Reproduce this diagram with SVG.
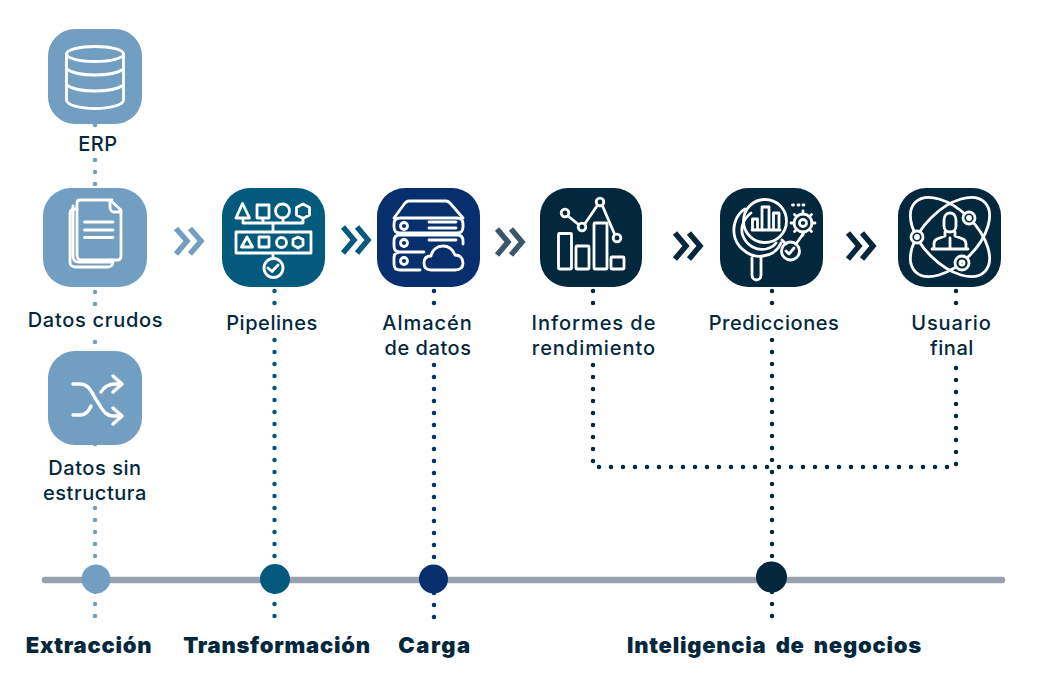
<svg xmlns="http://www.w3.org/2000/svg" width="1041" height="683" viewBox="0 0 1041 683">
<style>
text{font-family:"Inter","Liberation Sans",sans-serif;fill:#03283e;text-anchor:middle}
.l{font-size:20px;font-weight:500;letter-spacing:.55px}
.w{letter-spacing:.95px}
.h{font-size:22px;font-weight:900;letter-spacing:.75px;word-spacing:1.5px}
.i{fill:none;stroke:#fff;stroke-width:2.8;stroke-linecap:round;stroke-linejoin:round}
.d{fill:none;stroke-width:4.5;stroke-dasharray:0 12;stroke-linecap:round}
.c{fill:none;stroke-width:5.5}
</style>
<rect width="1041" height="683" fill="#fff"/>
<g id="connectors">
<path class="d" stroke="#729fc1" d="M95 125V127.500M95 160V196.500M95 292V304.500M95 342V352.500M95 444V452.500M95 508V620.500"/>
<path class="d" stroke="#035a7c" d="M274.500 291V303.500M274.500 340V620.500"/>
<path class="d" stroke="#072f6e" d="M434 291V303.500M434 365V620.500"/>
<path class="d" stroke="#03283e" d="M593 291V303.500M593 365V467H956V364.500M956 303V290.500"/>
<path class="d" stroke="#03283e" d="M772 291V303.500M772 340V620.500"/>
<path d="M45 580H1002" stroke="#98a1ac" stroke-width="6.500" stroke-linecap="round" fill="none"/>
<path class="c" stroke="#729fc1" d="M176 228.500L187 241L176 254M190 228.500L201 241L190 254"/>
<path class="c" stroke="#035a7c" d="M343 227L354 240L343 253M357 227L368 240L357 253"/>
<path class="c" stroke="#3b5569" d="M497 229L508 242L497 255M511 229L522 242L511 255"/>
<path class="c" stroke="#03283e" d="M675 233L686 246L675 259M689 233L700 246L689 259"/>
<path class="c" stroke="#03283e" d="M848 233L859 246L848 259M862 233L873 246L862 259"/>
</g>
<g id="node-erp">
<rect x="48" y="29" width="94" height="95" rx="27" fill="#729fc1"/>
<g class="i"><ellipse cx="95" cy="54" rx="28.500" ry="7.500"/><path d="M66.500 54V100C66.500 105 80 108.500 95 108.500S123.500 105 123.500 100V54M66.500 69C72 73 82 75 95 75S118 73 123.500 69M66.500 85C72 89 82 91 95 91S118 89 123.500 85"/></g>
<text class="l" x="98" y="151">ERP</text>
</g>
<g id="node-datos-crudos">
<rect x="43" y="188" width="104" height="99" rx="28" fill="#729fc1"/>
<g class="i"><path d="M77 209C72 209 70 210 70 213V262C70 265 72 267 75 267H108C111 267 113 265 113 262H79C75 262 73 260 73 256V206"/><path d="M112 200H80C78 200 77 201 77 203V255C77 258 79 260 81 260H118C120 260 121 258 121 256V210L110 200V207C110 210 112 212 114 212H121"/><path d="M84.500 222H113M84.500 230H113M84.500 237.500H113"/></g>
<text class="l" x="95.500" y="327" style="letter-spacing:.7px">Datos crudos</text>
</g>
<g id="node-datos-sin">
<rect x="48" y="351" width="94" height="94" rx="27" fill="#729fc1"/>
<path class="i" style="stroke-width:3.400" d="M73 384H80C90 384 92 394 97 401S104 416 114 416H121M73 415H80C85 415 89 411 91 406M101 392C104 387 109 384 115 384H121M113 376L122 384L113 392M113 408L122 416L113 424"/>
<text class="l" x="95" y="475">Datos sin</text><text class="l" x="95" y="500">estructura</text>
</g>
<g id="node-pipelines">
<rect x="222" y="188" width="103" height="99" rx="28" fill="#035a7c"/>
<g class="i"><path d="M242.500 203.500L236 218H249.500ZM257 205H269V218H257ZM303 204L309.500 207.500V215L303 218.500L296.500 215V207.500ZM243 218V223H303V218M263 218V223M283 218V223M273 223V232M236 232H311V253H236ZM247 237L241.500 247H252.500ZM259 237H269V247H259ZM298 237L303 239.500V245L298 248L293 245V239.500ZM273 253V258.500M268 268L272 271.500L278 265"/><circle cx="282.500" cy="211" r="7"/><circle cx="281.500" cy="242.500" r="5"/><circle cx="273.500" cy="268" r="9.500"/></g>
<text class="l" x="272" y="330">Pipelines</text>
</g>
<g id="node-almacen">
<rect x="377" y="188" width="103" height="99" rx="28" fill="#072f6e"/>
<g class="i"><path d="M394 218L405 203C406 202 407 201 409 201H446C448 201 449 202 450 203L463 218M400 218H457C461 218 463 220 463 224V227C463 231 461 233 457 233H400C396 233 394 231 394 227V224C394 220 396 218 400 218ZM400 235H457C461 235 463 237 463 241V244M400 235C396 235 394 237 394 241V246C394 250 396 252 400 252H424M400 252C396 252 394 254 394 258V264C394 268 396 270 400 270H420M429 222H456M429 228H456M429 240H456"/><circle cx="404" cy="226" r="3.500"/><circle cx="404" cy="243" r="3.500"/><circle cx="404" cy="261" r="3.500"/><path d="M431 270C426 270 424 267 424 263S426 256 431 256C432 250 437 246 443 246S453 250 455 255C460 255 463 258 463 263S460 270 455 270Z"/></g>
<text class="l w" x="427.500" y="330">Almacén</text><text class="l" x="428" y="355">de datos</text>
</g>
<g id="node-informes">
<rect x="540" y="188" width="102" height="99" rx="28" fill="#03283e"/>
<g class="i"><rect x="558.500" y="233.500" width="13" height="35.500" rx="1"/><rect x="576" y="246" width="13" height="23" rx="1"/><rect x="594" y="223" width="13" height="46" rx="1"/><rect x="611" y="257" width="13" height="12" rx="1"/><path d="M568 216L578.500 224.500M585 223.500L597 206M602.500 206L614.500 234"/><circle cx="565" cy="213" r="3.800"/><circle cx="582" cy="227" r="3.800"/><circle cx="600" cy="202" r="3.800"/><circle cx="617" cy="238" r="3.800"/></g>
<text class="l w" x="594" y="330">Informes de</text><text class="l w" x="594" y="355">rendimiento</text>
</g>
<g id="node-predicciones">
<rect x="720" y="188" width="103" height="99" rx="28" fill="#03283e"/>
<g class="i"><circle cx="765" cy="221" r="21.500"/><path d="M745 209C735 215 732 228 735 238C739 250 752 258 763 256C772 255 778 250 781 243M751 213C743 219 740 229 743 236C747 246 757 251 766 249C770 248 774 246 776 243M752 258V275C752 278 754 280 756.500 280S761 278 761 275V258M752.500 230V219H757.500V230M762 230V207H769V230M773.500 230V213H779V230M752 230H780M782 240L786 244M796 244L803 234M786 251L789 254L794 248"/><circle cx="790.500" cy="251" r="9"/><circle cx="803" cy="223" r="3.500"/><circle cx="803" cy="223" r="9"/><path d="M803 211V214M803 232V235M791 223H794M812 223H815M794.500 214.500L796.500 216.500M809.500 229.500L811.500 231.500M811.500 214.500L809.500 216.500M796.500 229.500L794.500 231.500"/><path d="M792.500 205H793.500M798 205H799M803 205H804"/></g>
<text class="l" x="774" y="330">Predicciones</text>
</g>
<g id="node-usuario">
<rect x="898" y="188" width="103" height="99" rx="28" fill="#03283e"/>
<g class="i"><ellipse cx="950" cy="237" rx="49" ry="27" transform="rotate(45 950 237)"/><ellipse cx="950" cy="237" rx="49" ry="27" transform="rotate(-45 950 237)"/><circle cx="969" cy="218" r="6" fill="#03283e"/><circle cx="969" cy="218" r="1.500"/><circle cx="917" cy="237" r="6" fill="#03283e"/><circle cx="917" cy="237" r="1.500"/><circle cx="962" cy="263" r="7" fill="#03283e"/><circle cx="962" cy="263" r="2"/><path d="M944 220C944 215 947 213 950 213S956 215 956 220V226C956 230 953 232 950 232S944 230 944 226ZM945 232V236L937 239C935 240 934 241 934 244V248M955 232V236L963 239C965 240 966 241 966 244V248M932 249H968M950 238V248"/></g>
<text class="l w" x="951.500" y="330">Usuario</text><text class="l" x="952" y="355">final</text>
</g>
<g id="node-extraccion"><circle cx="96" cy="579" r="14.500" fill="#729fc1"/><text class="h" x="89" y="653">Extracción</text></g>
<g id="node-transformacion"><circle cx="275" cy="579" r="15" fill="#035a7c"/><text class="h" x="277" y="653">Transformación</text></g>
<g id="node-carga"><circle cx="433.500" cy="579" r="14.500" fill="#072f6e"/><text class="h" x="435" y="653" style="letter-spacing:1.500px">Carga</text></g>
<g id="node-inteligencia"><circle cx="771.500" cy="577" r="15.500" fill="#03283e"/><text class="h" x="774.500" y="653" style="word-spacing:4px">Inteligencia de negocios</text></g>
</svg>
